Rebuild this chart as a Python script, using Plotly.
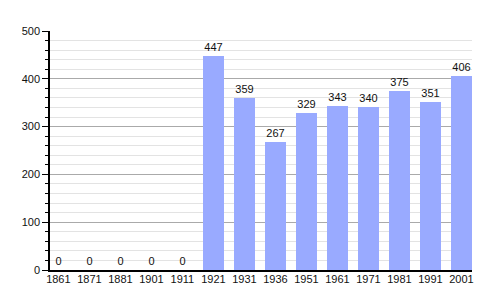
import plotly.graph_objects as go

years = ["1861", "1871", "1881", "1901", "1911", "1921", "1931", "1936",
         "1951", "1961", "1971", "1981", "1991", "2001"]
population = [0, 0, 0, 0, 0, 447, 359, 267, 329, 343, 340, 375, 351, 406]

fig = go.Figure()
fig.add_trace(go.Bar(
    x=list(range(len(years))), y=population,
    marker=dict(color="#99aaff", line=dict(width=0)),
    width=0.68,
    text=[str(v) for v in population], textposition="outside",
    textfont=dict(size=11, color="#111111", family="Liberation Sans"),
    cliponaxis=False,
))

fig.update_layout(
    width=500, height=300,
    margin=dict(l=50, r=28, t=31, b=30),
    paper_bgcolor="white", plot_bgcolor="white",
    showlegend=False,
    font=dict(family="Liberation Sans", size=11, color="#111111"),
    bargap=0,
)
fig.update_xaxes(
    range=[-0.27, 13.34],
    tickmode="array", tickvals=list(range(len(years))), ticktext=years,
    showgrid=False, showline=True, linecolor="black", linewidth=1.5,
    ticks="", tickfont=dict(size=11), ticklabelstandoff=-2,
)
fig.update_yaxes(
    range=[0, 500], dtick=100, tick0=0,
    showgrid=True, gridcolor="#aaaaaa", gridwidth=1,
    showline=True, linecolor="black", linewidth=1.5,
    ticks="outside", ticklen=6, tickcolor="black", tickwidth=1,
    tickfont=dict(size=11), zeroline=False,
    minor=dict(dtick=20, showgrid=True, gridcolor="#e3e3e3", gridwidth=1,
               ticks="outside", ticklen=3, tickcolor="black"),
)

fig.write_html("out.html")
